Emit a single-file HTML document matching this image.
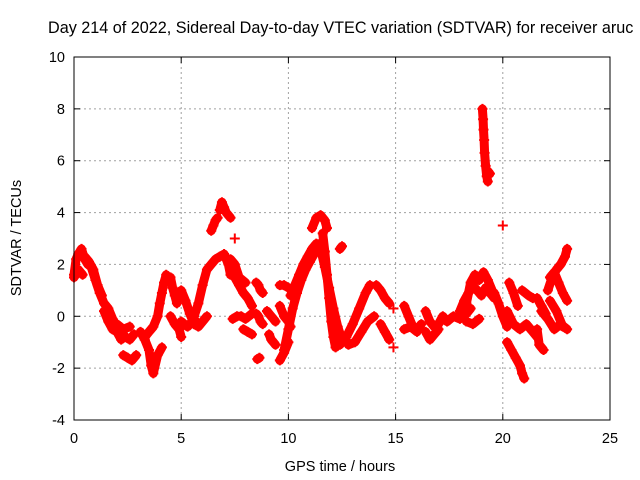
<!DOCTYPE html>
<html><head><meta charset="utf-8"><style>
body{margin:0;background:#fff}
svg{display:block;font-family:"Liberation Sans",sans-serif}
</style></head><body>
<svg id="chart" width="640" height="480" viewBox="0 0 640 480" xmlns="http://www.w3.org/2000/svg">
<text x="48" y="33" font-size="16.2" fill="#000">Day 214 of 2022, Sidereal Day-to-day VTEC variation (SDTVAR) for receiver aruc</text>
<text transform="translate(21,238) rotate(-90)" text-anchor="middle" font-size="14.5">SDTVAR / TECUs</text>
<text x="340" y="471" text-anchor="middle" font-size="14.5">GPS time / hours</text>
<g id="grid"></g>
<g id="marks"></g>
<rect x="74" y="57" width="536" height="363" fill="none" stroke="#000" stroke-width="1"/>
</svg>
<script>
const xTicks=[0,5,10,15,20,25];
const yTicks=[-4,-2,0,2,4,6,8,10];
const segHours=[
[0,0.1,0.2,0.35,0.5,0.65,0.8,1.0,1.2,1.4,1.6,1.8,2.0,2.2,2.4,2.6,2.8],
[0.5,0.7,0.9,1.1,1.3],[0,0.2,0.4],[1.4,1.6,1.8,2.0,2.2],[2.3,2.5,2.7,2.9],[2.0,2.3,2.6],
[3.1,3.3,3.5,3.6,3.7,3.9,4.1],[3.3,3.5,3.7,3.9,4.0,4.1,4.2,4.3],[4.5,4.6,4.7,4.8],[4.5,4.7,4.9,5.0],
[5.0,5.2,5.4,5.6,5.8,6.0,6.2],[5.0,5.3,5.6],[5.6,5.8,6.0,6.2,6.4,6.6,6.8,7.0,7.2,7.3],
[7.3,7.5,7.7,7.9,8.1,8.3],[7.3,7.5,7.7,8.0],[6.4,6.5,6.6,6.7],[6.8,6.9,7.0,7.1,7.3],[7.5],
[7.4,7.6,7.8,8.0,8.3],[7.9,8.1,8.3],[8.5,8.6,8.7,8.8],[8.5,8.6,8.7,8.8],[8.55,8.65],
[9.0,9.1,9.2,9.3,9.4],[9.1,9.2,9.3,9.4],[9.6,9.8,10.0],[9.6,9.8,10.0,10.1],[9.6,9.8,10.0],
[9.8,10.0,10.2,10.4,10.6,10.8,11.0,11.2,11.4,11.6],[10.1,10.3,10.5,10.7,10.9,11.1,11.3,11.5],
[11.1,11.3,11.5,11.7,11.8],[11.6,11.7,11.8,11.9,12.0,12.1,12.2],[11.5,11.7,11.9,12.1,12.3,12.5],
[12.4,12.7,13.0,13.3,13.6,13.8],[12.8,13.1,13.4,13.7,14.0],[12.4,12.5],[14.1,14.3,14.5,14.7],
[14.3,14.5,14.7],[14.9],[14.9],[15.4,15.6,15.8,16.0,16.2],[15.4,15.7,16.0],
[16.4,16.6,16.8,17.0,17.2,17.4],[16.4,16.6,16.8,17.0],[17.4,17.7,18.0,18.3,18.5],
[18.0,18.2,18.4,18.6,18.8,19.0,19.2,19.4,19.6],[18.3,18.5,18.7,18.9,19.1,19.3,19.5],[18.3,18.6,18.9],
[19.05,19.08,19.1,19.13,19.15,19.2,19.25,19.3],[19.3,19.4],[20.0],[19.6,19.8,20.0,20.2],
[20.2,20.5,20.8,21.1,21.4,21.6],[20.2,20.4,20.6,20.8,20.9,21.0],[20.3,20.5,20.7],[20.9,21.2,21.4],
[21.6,21.8,22.0],[21.6,21.7,21.9],[21.8,22.1,22.4,22.7,23.0],[22.1,22.3,22.5,22.7,22.9,23.0],
[22.2,22.4,22.6,22.8,23.0],[22.2,22.5,22.8]
];
const segValues=[
[1.6,2.2,2.4,2.6,2.2,2.0,1.9,1.4,0.9,0.5,0.3,-0.1,-0.4,-0.6,-0.8,-0.9,-0.7],
[2.3,2.1,1.8,1.2,0.8],[1.5,1.8,1.6],[0.2,-0.2,-0.5,-0.6,-0.9],[-1.5,-1.6,-1.7,-1.5],[-0.3,-0.5,-0.4],
[-0.6,-0.9,-1.3,-1.9,-2.2,-1.5,-1.2],[-0.8,-0.6,-0.4,0.0,0.5,0.9,1.3,1.6],[1.5,1.1,0.8,0.5],[0.0,-0.3,-0.5,-0.8],
[1.0,0.6,0.1,-0.3,-0.4,-0.2,0.0],[-0.2,-0.4,-0.1],[0.0,0.5,1.2,1.8,2.0,2.2,2.3,2.4,2.0,1.6],
[1.8,1.5,1.2,0.9,0.7,0.4],[2.2,2.0,1.5,1.3],[3.3,3.5,3.7,3.8],[4.1,4.4,4.2,4.0,3.8],[3.0],
[-0.1,0.0,0.0,-0.1,0.1],[-0.5,-0.6,-0.7],[1.3,1.2,1.0,0.9],[0.1,0.0,-0.2,-0.3],[-1.65,-1.6],
[0.2,0.1,0.0,-0.1,-0.2],[-0.7,-0.9,-1.0,-1.1],[1.2,1.2,1.1],[0.4,0.0,-0.2,-0.4],[-1.7,-1.4,-1.0],
[-1.3,-0.5,0.3,0.9,1.4,1.8,2.1,2.4,2.6,2.5],[0.8,1.2,1.6,2.0,2.3,2.6,2.8,2.8],
[3.4,3.8,3.9,3.7,3.4],[3.2,2.5,1.6,0.7,-0.2,-0.8,-1.2],[2.6,1.9,1.1,0.3,-0.4,-0.9],
[-1.1,-0.8,-0.3,0.3,0.9,1.2],[-1.1,-1.0,-0.6,-0.2,0.0],[2.6,2.7],[1.2,1.0,0.7,0.5],
[-0.3,-0.6,-0.9],[0.3],[-1.2],[0.4,0.0,-0.4,-0.5,-0.3],[-0.5,-0.4,-0.6],
[0.2,-0.2,-0.4,-0.3,0.0,-0.2],[-0.6,-0.9,-0.7,-0.5],[-0.2,0.0,-0.1,0.1,0.3],
[0.2,0.6,0.9,1.2,1.0,0.8,1.1,0.9,0.7],[0.5,1.3,1.6,1.4,1.7,1.4,1.0],[-0.2,-0.3,-0.1],
[8.0,7.6,7.2,6.8,6.3,5.8,5.4,5.2],[5.6,5.5],[3.5],[0.9,0.5,0.0,-0.4],
[0.2,-0.3,-0.5,-0.3,-0.6,-0.8],[-1.0,-1.3,-1.6,-1.9,-2.2,-2.4],[1.3,0.9,0.4],[1.0,0.8,0.7],
[0.7,0.4,0.1],[-0.5,-1.1,-1.3],[0.2,-0.1,-0.5,-0.3,-0.5],[1.0,1.5,1.8,2.0,2.3,2.6],
[1.5,1.7,1.3,0.9,0.6],[0.6,0.2,-0.4]
];
const NS="http://www.w3.org/2000/svg";
const X0=74,X1=610,Y0=420,Y1=57,XMIN=0,XMAX=25,YMIN=-4,YMAX=10;
function sx(v){return X0+(v-XMIN)/(XMAX-XMIN)*(X1-X0);}
function sy(v){return Y0-(v-YMIN)/(YMAX-YMIN)*(Y0-Y1);}
const grid=document.getElementById('grid');
const svg=document.getElementById('chart');
function mk(tag,attrs,parent){const e=document.createElementNS(NS,tag);for(const k in attrs)e.setAttribute(k,attrs[k]);parent.appendChild(e);return e;}
xTicks.forEach(t=>{
  const x=sx(t);
  if(t>XMIN&&t<XMAX){const g=mk('line',{x1:x,x2:x,y1:Y1,y2:Y0,stroke:'#a0a0a0','stroke-dasharray':'2,3'},grid);
  
  }
  const a=mk('line',{x1:x,x2:x,y1:Y0,y2:Y0-6,stroke:'#000'},grid);
  
  
  const b=mk('line',{x1:x,x2:x,y1:Y1,y2:Y1+6,stroke:'#000'},grid);
  
  
  const l=mk('text',{x:x,y:443,'text-anchor':'middle','font-size':'14.5'},svg);
  l.textContent=t;
  
  
});
yTicks.forEach(t=>{
  const y=sy(t);
  if(t>YMIN&&t<YMAX){const g=mk('line',{x1:X0,x2:X1,y1:y,y2:y,stroke:'#a0a0a0','stroke-dasharray':'2,3'},grid);
  
  }
  const a=mk('line',{x1:X0,x2:X0+6,y1:y,y2:y,stroke:'#000'},grid);
  
  
  const b=mk('line',{x1:X1,x2:X1-6,y1:y,y2:y,stroke:'#000'},grid);
  
  
  const l=mk('text',{x:65,y:y+5,'text-anchor':'end','font-size':'14.5'},svg);
  l.textContent=t;
  
  
});
const marks=document.getElementById('marks');
segHours.forEach((hs,i)=>{
  const vs=segValues[i];
  const pts=hs.map((h,j)=>sx(h).toFixed(1)+','+sy(vs[j]).toFixed(1)).join(' ');
  if(hs.length>1){
    const pl=mk('polyline',{points:pts,fill:'none',stroke:'#ff0000','stroke-width':9,'stroke-linejoin':'round','stroke-linecap':'round'},marks);
    
    
  }
  hs.forEach((h,j)=>{
    const x=sx(h),y=sy(vs[j]);
    const p=mk('path',{d:`M${x-5},${y}H${x+5}M${x},${y-5}V${y+5}`,stroke:'#ff0000','stroke-width':2},marks);
    
    
  });
});
</script>
</body></html>
